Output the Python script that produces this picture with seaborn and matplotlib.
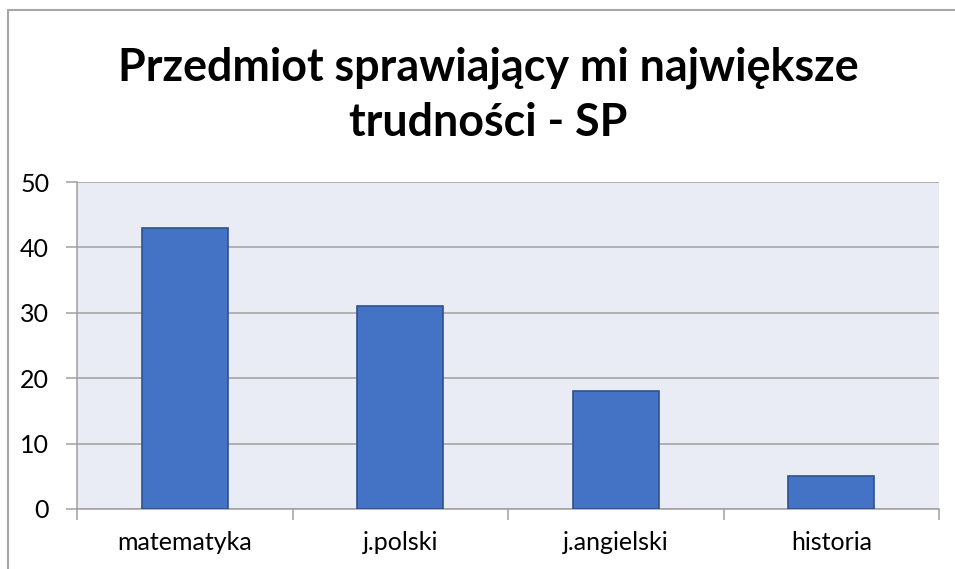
import matplotlib
matplotlib.use("Agg")
import matplotlib.pyplot as plt
import seaborn as sns
import pandas as pd
from matplotlib.lines import Line2D

categories = ["matematyka", "j.polski", "j.angielski", "historia"]
values = [43, 31, 18, 5]
yticks = [0, 10, 20, 30, 40, 50]
title = "Przedmiot sprawiający mi największe\ntrudności - SP"

sns.set_theme(style="white")
plt.rcParams['font.family'] = ['Lato', 'DejaVu Sans']

df = pd.DataFrame({"cat": categories, "val": values})

fig = plt.figure(figsize=(9.55, 5.69), dpi=100)
ax = fig.add_axes([77/955, 1-509/569, (939-77)/955, (509-182)/569])
ax.set_facecolor("#E9EBF5")

sns.barplot(data=df, x="cat", y="val", ax=ax, color="#4472C4", width=0.4,
            edgecolor="#2F528F", linewidth=1.2, saturation=1, zorder=3)

ax.set_ylim(0, 50)
ax.set_yticks(yticks)
ax.set_xlim(-0.5, len(categories) - 0.5)
ax.grid(axis="y", color="#A0A0A0", linewidth=1.1, zorder=0)
ax.set_axisbelow(True)
for s in ["top", "right"]:
    ax.spines[s].set_visible(False)
ax.spines["left"].set_color("#A0A0A0")
ax.spines["bottom"].set_color("#A0A0A0")
ax.spines["left"].set_linewidth(1.1)
ax.spines["bottom"].set_linewidth(1.1)

ax.set_xlabel("")
ax.set_ylabel("")
ax.tick_params(axis="y", which="major", length=8, width=1.1, color="#A0A0A0",
               labelsize=18, pad=12, left=True, direction="out")
ax.tick_params(axis="x", which="major", length=0, labelsize=18, pad=16)
# x tick marks at category boundaries
ax.set_xticks([i - 0.5 for i in range(len(categories) + 1)], minor=True)
ax.tick_params(axis="x", which="minor", length=8, width=1.1, color="#A0A0A0",
               bottom=True, direction="out")
for lab in ax.get_xticklabels() + ax.get_yticklabels():
    lab.set_color("#000000")

fig.text(488/955, 1 - 95/569, title, ha="center", va="center", fontsize=32.3,
         fontweight="bold", linespacing=1.38, color="#000000")

# figure border (left & top)
fig.add_artist(Line2D([8/955, 8/955], [0, 1 - 10/569], transform=fig.transFigure,
                      color="#A6A6A6", linewidth=1.5))
fig.add_artist(Line2D([8/955, 1], [1 - 10/569, 1 - 10/569], transform=fig.transFigure,
                      color="#A6A6A6", linewidth=1.5))

fig.savefig("out.png", dpi=100)
